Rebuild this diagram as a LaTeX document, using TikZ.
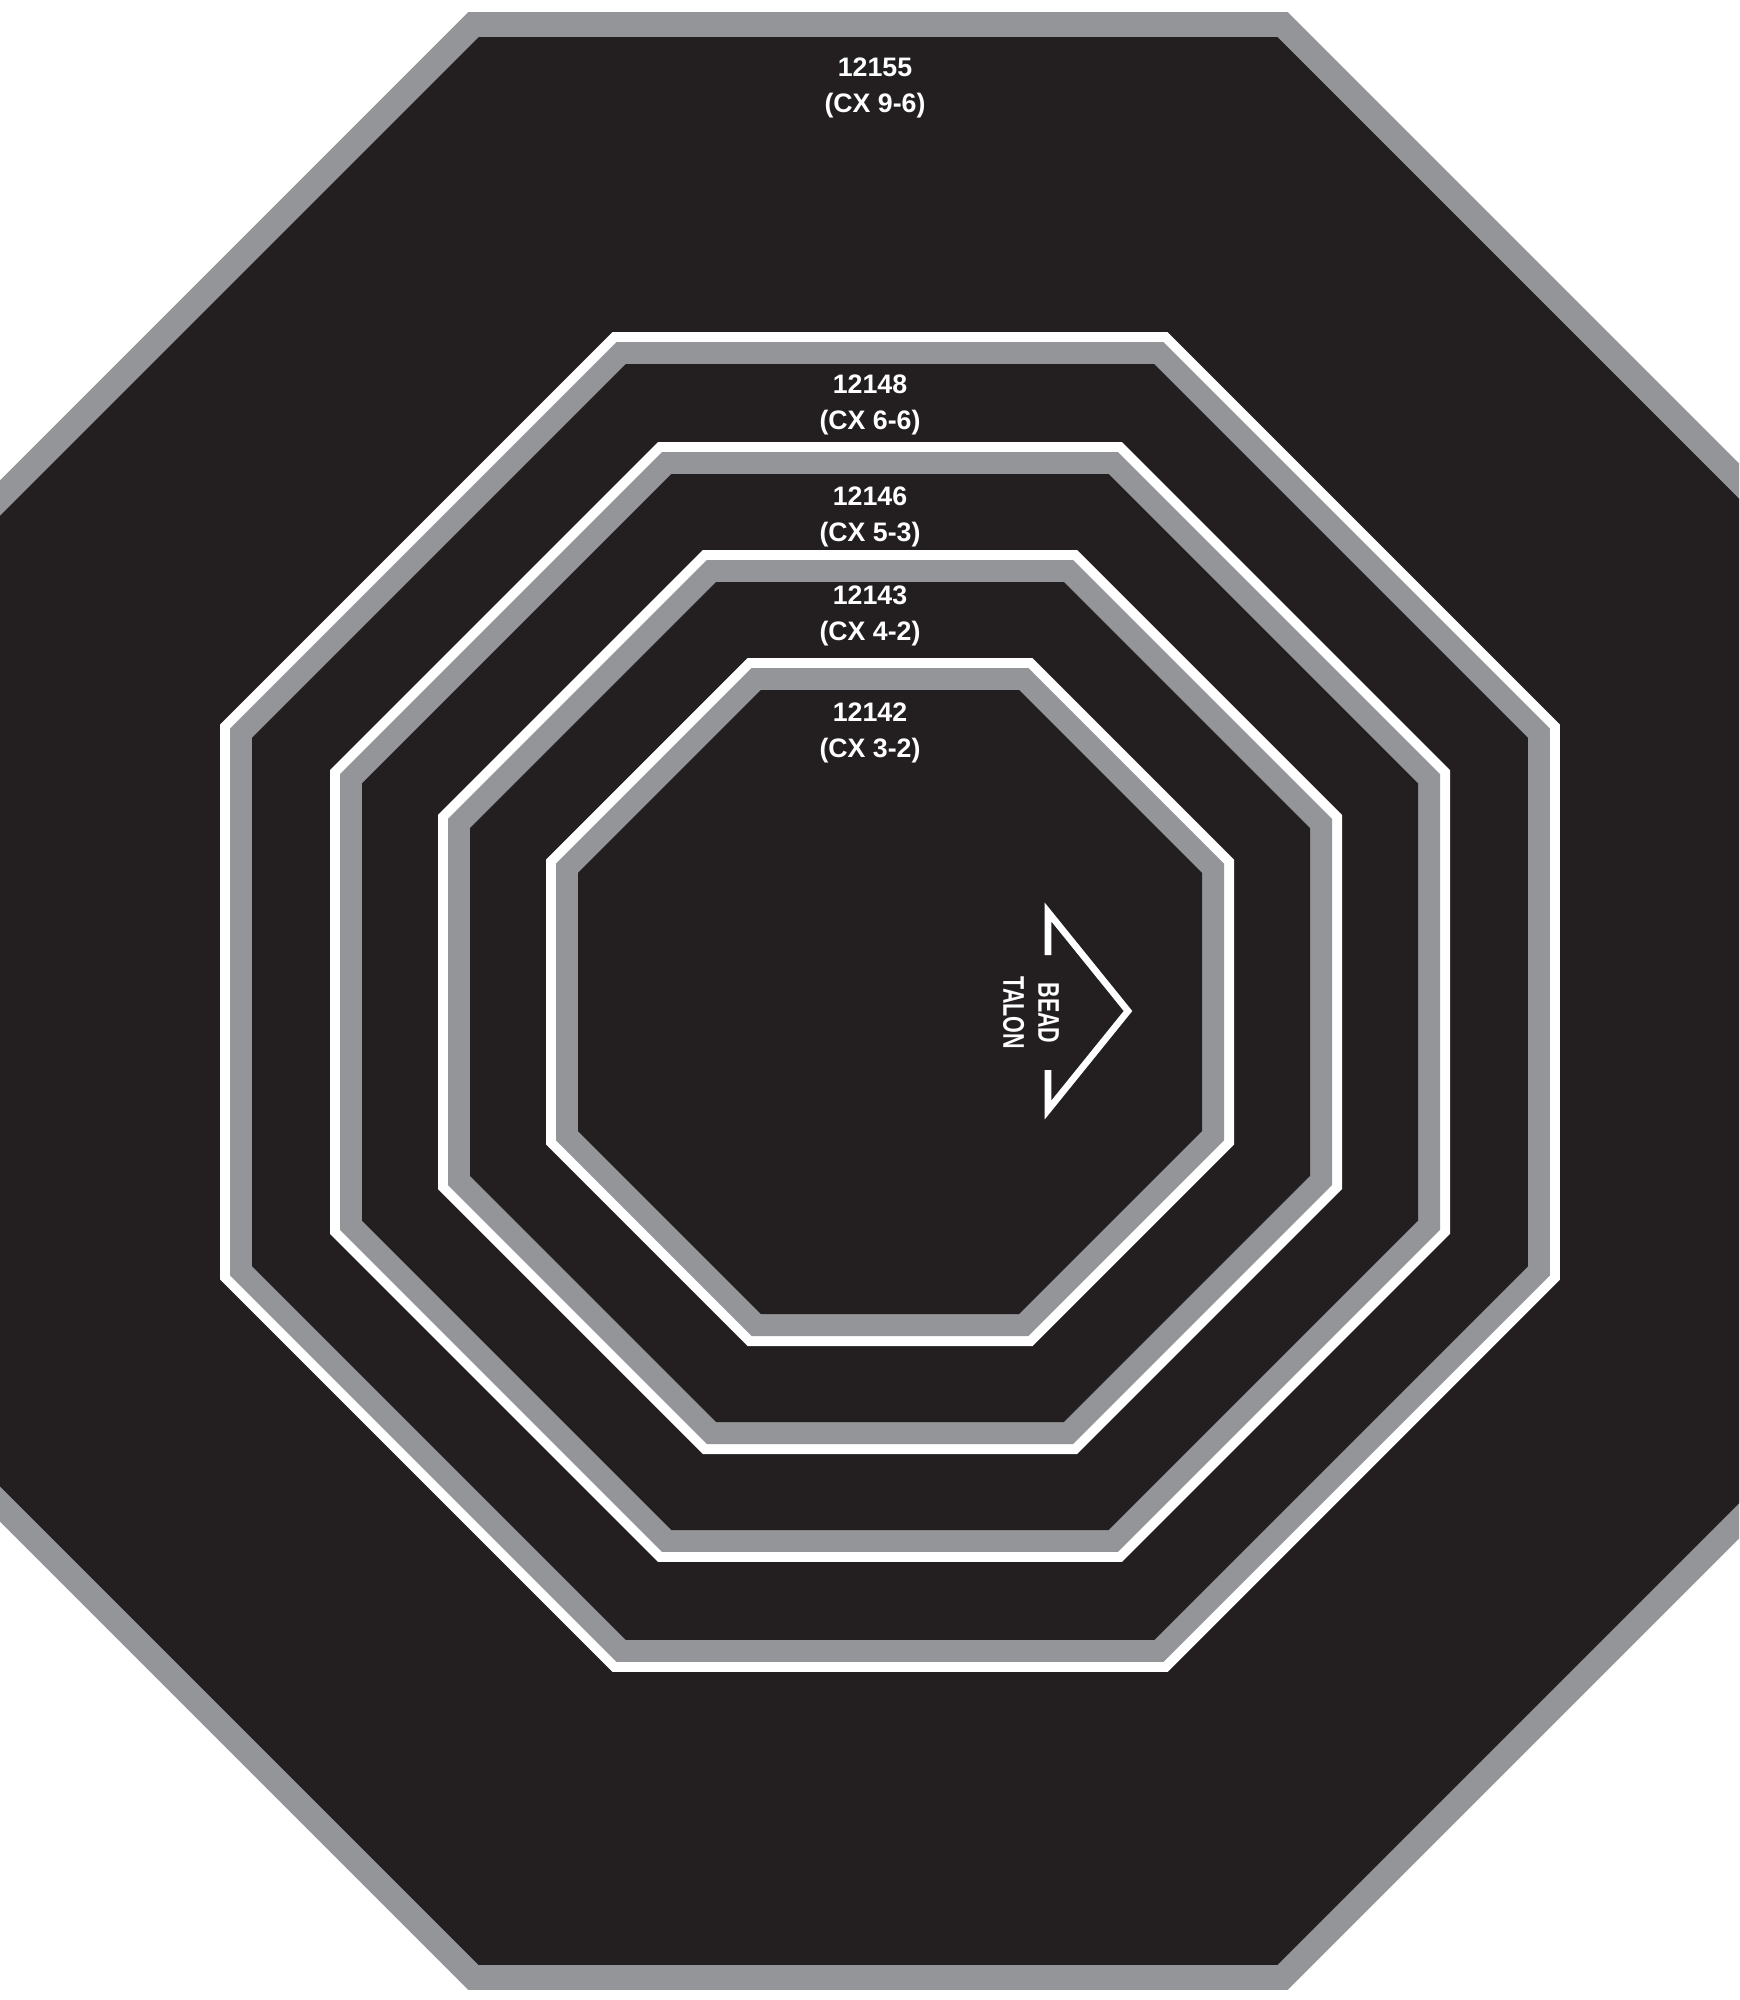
\documentclass[tikz,border=0pt]{standalone}
\usepackage{fontspec}
\setmainfont{Liberation Sans}
\newfontfamily\narrowfont{Liberation Sans}[FakeStretch=0.72]
\definecolor{tireblack}{RGB}{35,31,32}
\definecolor{rimgray}{RGB}{147,149,152}
\newcommand{\octfill}[4]{%
  \pgfmathsetmacro\octr{(#4)*1.08239}%
  \fill[#1,shift={(#2,#3)}] (22.5:\octr) \foreach \k in {1,...,7}{ -- ({22.5+45*\k}:\octr)} -- cycle;}
\tikzset{
  ringlabel/.style={text=white,font=\fontsize{7.6}{10}\selectfont\bfseries,align=center,inner sep=0pt},
  beadlabel/.style={text=white,font=\narrowfont\fontsize{8.5}{10}\selectfont\bfseries,align=center,inner sep=0pt}
}
\begin{document}
\begin{tikzpicture}[x=0.01cm,y=-0.01cm]
\useasboundingbox (0,0) rectangle (1739,2000);
\clip (0,0) rectangle (1739,2000);
\fill[white] (0,0) rectangle (1739,2000);
\octfill{rimgray}{878}{1001}{989}
\octfill{tireblack}{878}{1001}{964}
\foreach \a in {670,560,452,344}{
  \octfill{white}{890}{1002}{\a}
  \octfill{rimgray}{890}{1002}{\a-10}
  \octfill{tireblack}{890}{1002}{\a-32}
}
\node[ringlabel] (lbl155) at (875,88) {12155\\(CX 9-6)};
\foreach \num/\cx/\y in {12148/6-6/405,12146/5-3/517,12143/4-2/616,12142/3-2/733}
  \node[ringlabel] (lbl\num) at (870,\y) {\num\\(CX \cx)};
\draw[white,line width=1.9pt,line join=miter] (1048,955) -- (1048,912) -- (1128,1011) -- (1048,1110) -- (1048,1070);
\node[beadlabel,rotate=-90] (bead) at (1031,1013) {BEAD\\TALON};
\end{tikzpicture}
\end{document}
